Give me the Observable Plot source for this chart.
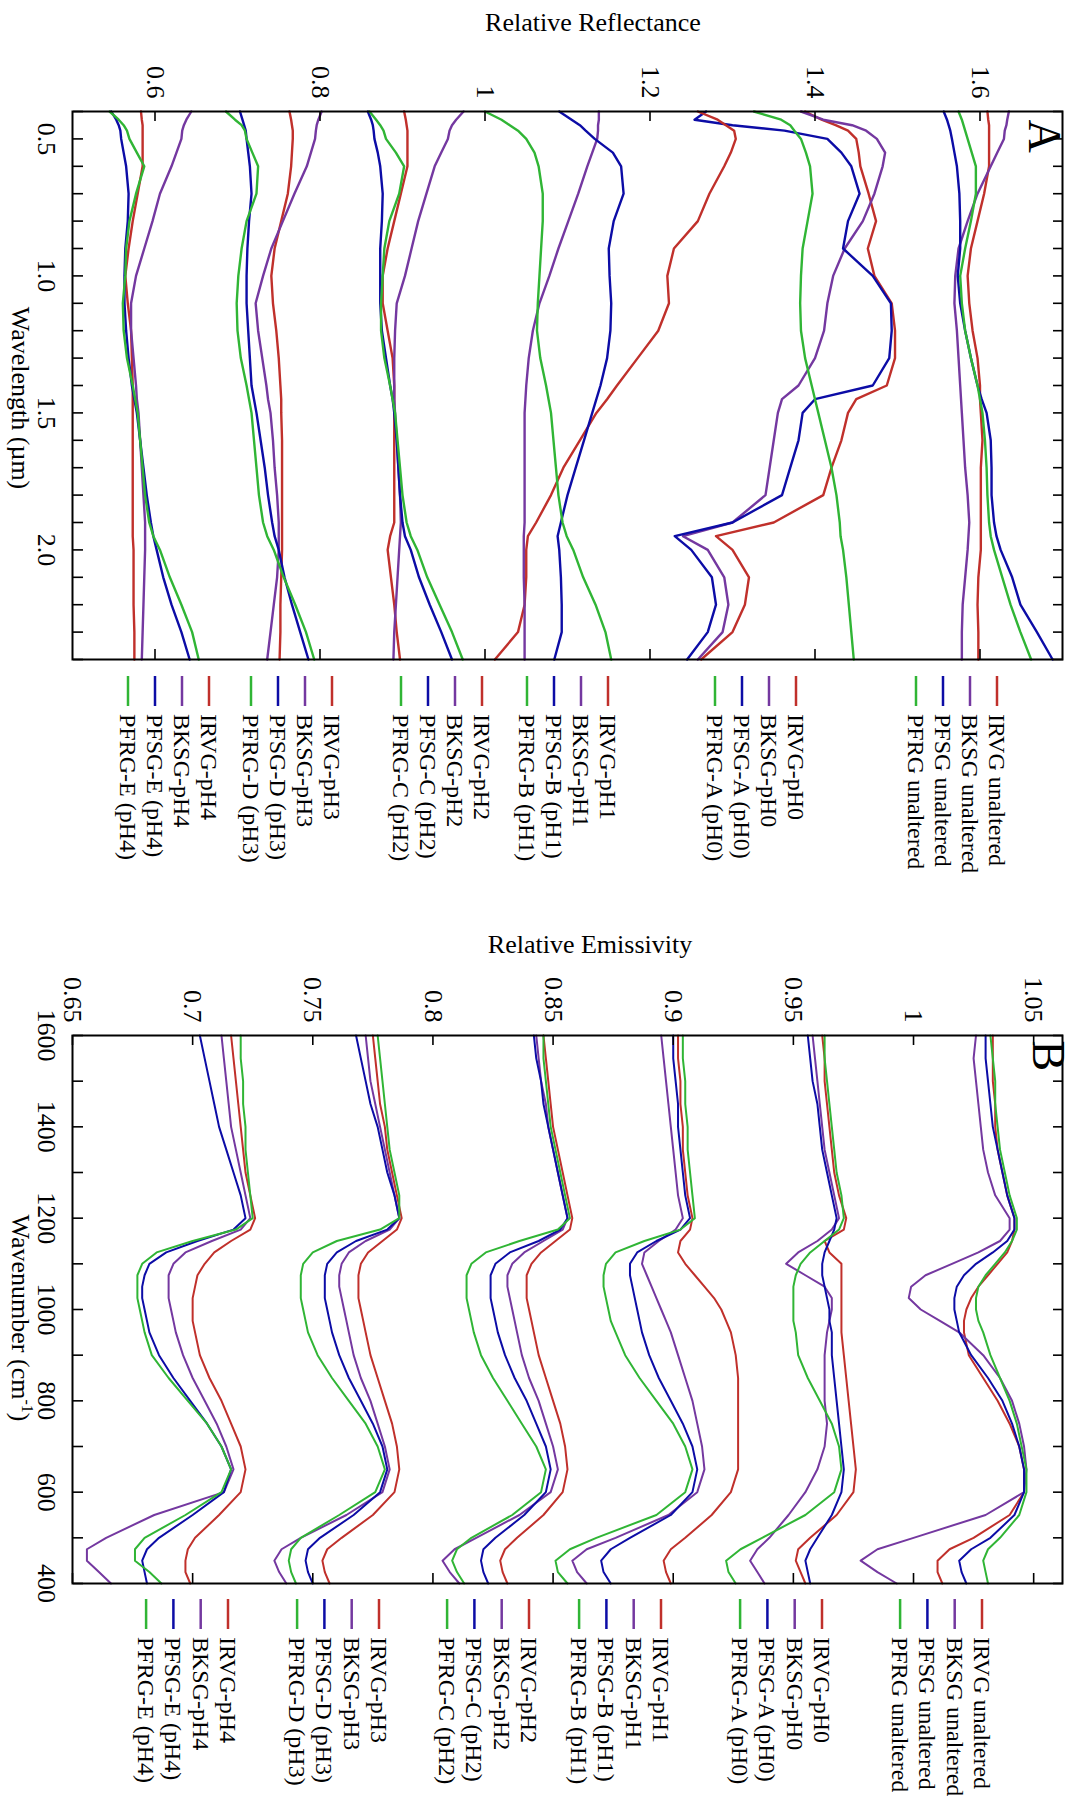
<!DOCTYPE html>
<html>
<head>
<meta charset="utf-8">
<script src="https://cdn.jsdelivr.net/npm/d3@7"></script>
<script src="https://cdn.jsdelivr.net/npm/@observablehq/plot@0.6"></script>
<style>
  html, body { margin: 0; padding: 0; background: #fff; }
  #page { position: relative; width: 1074px; height: 1796px; overflow: hidden; background: #fff; }
  /* the figure is laid out landscape and turned a quarter turn clockwise */
  #fig { position: absolute; left: 0; top: 0; width: 1796px; height: 1074px;
         transform-origin: 0 0; transform: translate(1074px, 0) rotate(90deg);
         font-family: "Liberation Serif", "Times New Roman", serif; }
  #fig > div, #fig > svg { position: absolute; top: 0; }
</style>
</head>
<body>
<div id="page"><div id="fig"></div></div>
<script>
// ---------- Panel A: VNIR reflectance (wavelength grid, µm) ----------
const wavelengthUm = [0.40, 0.43, 0.45, 0.47, 0.50, 0.55, 0.60, 0.70, 0.80, 0.90, 1.00, 1.10, 1.20, 1.30, 1.40, 1.45, 1.50, 1.60, 1.70, 1.80, 1.90, 1.95, 2.00, 2.10, 2.20, 2.30, 2.40];
const wavelengthTicks = [0.5, 1.0, 1.5, 2.0];
const wavelengthMinor = [0.4, 0.5, 0.6, 0.7, 0.8, 0.9, 1.0, 1.1, 1.2, 1.3, 1.4, 1.5, 1.6, 1.7, 1.8, 1.9, 2.0, 2.1, 2.2, 2.3, 2.4];
const reflTicks = [0.6, 0.8, 1, 1.2, 1.4, 1.6];

const reflIRVG_unaltered = [1.609, 1.610, 1.611, 1.611, 1.611, 1.611, 1.611, 1.605, 1.597, 1.589, 1.585, 1.587, 1.591, 1.597, 1.600, 1.600, 1.601, 1.603, 1.601, 1.601, 1.601, 1.601, 1.601, 1.598, 1.597, 1.598, 1.598];
const reflBKSG_unaltered = [1.635, 1.633, 1.632, 1.630, 1.629, 1.621, 1.613, 1.597, 1.585, 1.574, 1.570, 1.569, 1.572, 1.574, 1.576, 1.577, 1.578, 1.580, 1.582, 1.585, 1.587, 1.586, 1.585, 1.582, 1.579, 1.578, 1.578];
const reflPFSG_unaltered = [1.556, 1.560, 1.562, 1.564, 1.566, 1.569, 1.572, 1.575, 1.576, 1.576, 1.573, 1.576, 1.582, 1.589, 1.597, 1.602, 1.608, 1.613, 1.614, 1.614, 1.617, 1.620, 1.625, 1.639, 1.649, 1.669, 1.688];
const reflPFRG_unaltered = [1.574, 1.578, 1.580, 1.582, 1.585, 1.590, 1.595, 1.595, 1.589, 1.582, 1.576, 1.578, 1.582, 1.589, 1.597, 1.600, 1.603, 1.606, 1.608, 1.609, 1.611, 1.613, 1.617, 1.627, 1.637, 1.649, 1.662];

const reflIRVG_pH0 = [1.388, 1.408, 1.425, 1.440, 1.450, 1.453, 1.455, 1.465, 1.474, 1.464, 1.472, 1.493, 1.497, 1.497, 1.487, 1.450, 1.440, 1.432, 1.420, 1.410, 1.350, 1.280, 1.300, 1.320, 1.315, 1.300, 1.262];
const reflBKSG_pH0 = [1.383, 1.410, 1.445, 1.462, 1.475, 1.485, 1.482, 1.472, 1.458, 1.436, 1.422, 1.415, 1.411, 1.400, 1.380, 1.360, 1.355, 1.350, 1.345, 1.340, 1.300, 1.240, 1.270, 1.290, 1.295, 1.288, 1.258];
const reflPFSG_A = [1.268, 1.254, 1.300, 1.363, 1.415, 1.432, 1.444, 1.454, 1.440, 1.434, 1.470, 1.492, 1.493, 1.490, 1.470, 1.400, 1.385, 1.380, 1.370, 1.360, 1.300, 1.230, 1.250, 1.275, 1.280, 1.270, 1.245];
const reflPFRG_A = [1.326, 1.359, 1.370, 1.375, 1.383, 1.389, 1.394, 1.397, 1.391, 1.385, 1.383, 1.382, 1.383, 1.388, 1.396, 1.400, 1.404, 1.412, 1.420, 1.426, 1.430, 1.431, 1.434, 1.438, 1.441, 1.444, 1.447];

const reflIRVG_pH1 = [1.258, 1.282, 1.292, 1.302, 1.304, 1.298, 1.290, 1.272, 1.258, 1.229, 1.221, 1.223, 1.210, 1.185, 1.160, 1.148, 1.135, 1.115, 1.095, 1.080, 1.062, 1.052, 1.050, 1.050, 1.048, 1.040, 1.012];
const reflBKSG_pH1 = [1.138, 1.138, 1.137, 1.137, 1.136, 1.130, 1.124, 1.113, 1.101, 1.089, 1.078, 1.066, 1.058, 1.053, 1.050, 1.049, 1.048, 1.048, 1.048, 1.048, 1.048, 1.047, 1.047, 1.047, 1.048, 1.048, 1.048];
const reflPFSG_B = [1.090, 1.105, 1.115, 1.122, 1.133, 1.155, 1.165, 1.168, 1.156, 1.150, 1.151, 1.153, 1.152, 1.148, 1.140, 1.135, 1.130, 1.120, 1.110, 1.100, 1.092, 1.088, 1.090, 1.092, 1.093, 1.093, 1.084];
const reflPFRG_B = [1.000, 1.020, 1.030, 1.040, 1.050, 1.060, 1.065, 1.070, 1.070, 1.068, 1.066, 1.064, 1.063, 1.067, 1.074, 1.077, 1.080, 1.083, 1.086, 1.089, 1.094, 1.099, 1.107, 1.119, 1.134, 1.146, 1.153];

const reflIRVG_pH2 = [0.902, 0.904, 0.905, 0.906, 0.906, 0.906, 0.906, 0.898, 0.890, 0.882, 0.876, 0.876, 0.882, 0.888, 0.890, 0.890, 0.890, 0.890, 0.890, 0.890, 0.890, 0.885, 0.882, 0.886, 0.890, 0.893, 0.897];
const reflBKSG_pH2 = [0.974, 0.965, 0.960, 0.957, 0.955, 0.947, 0.939, 0.929, 0.919, 0.911, 0.903, 0.893, 0.891, 0.890, 0.890, 0.890, 0.891, 0.893, 0.895, 0.897, 0.898, 0.897, 0.896, 0.894, 0.892, 0.890, 0.889];
const reflPFSG_C = [0.858, 0.862, 0.864, 0.865, 0.866, 0.870, 0.873, 0.876, 0.875, 0.873, 0.873, 0.873, 0.875, 0.880, 0.885, 0.888, 0.890, 0.893, 0.895, 0.897, 0.900, 0.903, 0.910, 0.920, 0.933, 0.947, 0.960];
const reflPFRG_C = [0.860, 0.868, 0.873, 0.877, 0.880, 0.892, 0.902, 0.896, 0.884, 0.878, 0.876, 0.874, 0.874, 0.878, 0.885, 0.888, 0.891, 0.894, 0.897, 0.900, 0.905, 0.910, 0.918, 0.930, 0.945, 0.960, 0.973];

const reflIRVG_pH3 = [0.763, 0.765, 0.766, 0.767, 0.767, 0.766, 0.765, 0.761, 0.753, 0.745, 0.741, 0.743, 0.747, 0.750, 0.752, 0.753, 0.753, 0.754, 0.754, 0.754, 0.754, 0.754, 0.754, 0.753, 0.752, 0.752, 0.751];
const reflBKSG_pH3 = [0.802, 0.798, 0.796, 0.795, 0.794, 0.789, 0.784, 0.769, 0.755, 0.741, 0.731, 0.722, 0.725, 0.730, 0.735, 0.737, 0.740, 0.743, 0.745, 0.748, 0.750, 0.750, 0.750, 0.748, 0.744, 0.740, 0.736];
const reflPFSG_D = [0.703, 0.706, 0.708, 0.710, 0.711, 0.713, 0.715, 0.717, 0.714, 0.712, 0.711, 0.711, 0.713, 0.715, 0.717, 0.720, 0.723, 0.728, 0.733, 0.737, 0.742, 0.745, 0.750, 0.757, 0.766, 0.776, 0.786];
const reflPFRG_D = [0.686, 0.697, 0.705, 0.709, 0.711, 0.718, 0.725, 0.723, 0.711, 0.705, 0.701, 0.699, 0.700, 0.704, 0.711, 0.714, 0.717, 0.720, 0.723, 0.726, 0.731, 0.736, 0.744, 0.756, 0.770, 0.783, 0.793];

const reflIRVG_pH4 = [0.583, 0.584, 0.585, 0.585, 0.585, 0.585, 0.585, 0.579, 0.573, 0.568, 0.564, 0.567, 0.571, 0.572, 0.573, 0.573, 0.573, 0.573, 0.573, 0.573, 0.573, 0.573, 0.574, 0.574, 0.574, 0.575, 0.575];
const reflBKSG_pH4 = [0.644, 0.638, 0.635, 0.633, 0.632, 0.626, 0.620, 0.606, 0.597, 0.587, 0.577, 0.571, 0.571, 0.574, 0.577, 0.578, 0.580, 0.582, 0.584, 0.586, 0.588, 0.588, 0.588, 0.587, 0.586, 0.585, 0.584];
const reflPFSG_E = [0.547, 0.553, 0.556, 0.558, 0.559, 0.562, 0.565, 0.568, 0.567, 0.564, 0.563, 0.563, 0.565, 0.568, 0.572, 0.575, 0.578, 0.582, 0.586, 0.590, 0.595, 0.598, 0.602, 0.610, 0.620, 0.632, 0.642];
const reflPFRG_E = [0.545, 0.556, 0.562, 0.566, 0.569, 0.578, 0.587, 0.577, 0.569, 0.565, 0.564, 0.561, 0.562, 0.566, 0.573, 0.576, 0.579, 0.582, 0.585, 0.588, 0.593, 0.598, 0.606, 0.618, 0.632, 0.645, 0.653];

// ---------- Panel B: TIR emissivity (wavenumber grid, cm-1) ----------
const wavenumber = [1600, 1550, 1500, 1450, 1400, 1350, 1300, 1250, 1200, 1175, 1150, 1125, 1100, 1075, 1050, 1025, 1000, 975, 950, 900, 850, 800, 750, 700, 650, 600, 550, 500, 475, 450, 425, 400];
const wavenumberTicks = [1600, 1400, 1200, 1000, 800, 600, 400];
const wavenumberMinor = [1600, 1500, 1400, 1300, 1200, 1100, 1000, 900, 800, 700, 600, 500, 400];
const emisTicks = [0.65, 0.7, 0.75, 0.8, 0.85, 0.9, 0.95, 1, 1.05];

const emisIRVG_unaltered = [1.033, 1.033, 1.033, 1.034, 1.034, 1.035, 1.037, 1.039, 1.042, 1.042, 1.041, 1.039, 1.035, 1.031, 1.027, 1.024, 1.022, 1.021, 1.021, 1.023, 1.029, 1.035, 1.040, 1.044, 1.046, 1.046, 1.040, 1.025, 1.015, 1.010, 1.010, 1.012];
const emisBKSG_unaltered = [1.026, 1.025, 1.026, 1.027, 1.028, 1.029, 1.031, 1.034, 1.040, 1.040, 1.036, 1.027, 1.016, 1.005, 0.999, 0.998, 1.003, 1.011, 1.019, 1.029, 1.036, 1.041, 1.044, 1.046, 1.047, 1.046, 1.030, 1.000, 0.985, 0.978, 0.985, 0.993];
const emisPFSG_unaltered = [1.030, 1.030, 1.031, 1.032, 1.033, 1.035, 1.037, 1.039, 1.042, 1.042, 1.039, 1.033, 1.026, 1.021, 1.018, 1.017, 1.017, 1.018, 1.019, 1.024, 1.031, 1.037, 1.041, 1.044, 1.046, 1.046, 1.042, 1.032, 1.024, 1.019, 1.020, 1.022];
const emisPFRG_unaltered = [1.032, 1.033, 1.034, 1.034, 1.035, 1.036, 1.038, 1.040, 1.043, 1.043, 1.041, 1.038, 1.034, 1.030, 1.027, 1.026, 1.026, 1.027, 1.029, 1.032, 1.036, 1.040, 1.043, 1.045, 1.047, 1.047, 1.044, 1.036, 1.031, 1.029, 1.030, 1.031];

const emisIRVG_pH0 = [0.962, 0.963, 0.963, 0.964, 0.965, 0.966, 0.967, 0.969, 0.972, 0.971, 0.963, 0.965, 0.970, 0.970, 0.970, 0.970, 0.970, 0.970, 0.970, 0.971, 0.972, 0.973, 0.974, 0.975, 0.976, 0.975, 0.968, 0.957, 0.952, 0.951, 0.953, 0.955];
const emisBKSG_pH0 = [0.958, 0.959, 0.960, 0.961, 0.962, 0.963, 0.965, 0.967, 0.969, 0.966, 0.960, 0.952, 0.947, 0.955, 0.963, 0.966, 0.966, 0.965, 0.964, 0.963, 0.963, 0.963, 0.964, 0.963, 0.960, 0.955, 0.948, 0.940, 0.935, 0.932, 0.935, 0.938];
const emisPFSG_A = [0.956, 0.957, 0.958, 0.960, 0.961, 0.962, 0.964, 0.966, 0.968, 0.967, 0.965, 0.963, 0.962, 0.962, 0.963, 0.964, 0.965, 0.965, 0.966, 0.966, 0.967, 0.968, 0.969, 0.970, 0.971, 0.970, 0.966, 0.960, 0.957, 0.955, 0.956, 0.957];
const emisPFRG_A = [0.963, 0.963, 0.964, 0.965, 0.966, 0.967, 0.968, 0.970, 0.971, 0.969, 0.963, 0.957, 0.953, 0.951, 0.950, 0.950, 0.950, 0.950, 0.951, 0.952, 0.956, 0.961, 0.966, 0.969, 0.970, 0.967, 0.955, 0.937, 0.928, 0.922, 0.923, 0.926];

const emisIRVG_pH1 = [0.902, 0.902, 0.903, 0.903, 0.904, 0.904, 0.905, 0.906, 0.908, 0.907, 0.903, 0.902, 0.905, 0.909, 0.913, 0.917, 0.920, 0.922, 0.924, 0.926, 0.927, 0.927, 0.927, 0.927, 0.927, 0.924, 0.916, 0.905, 0.899, 0.896, 0.897, 0.899];
const emisBKSG_pH1 = [0.895, 0.896, 0.897, 0.898, 0.899, 0.900, 0.901, 0.902, 0.904, 0.901, 0.894, 0.888, 0.887, 0.889, 0.891, 0.893, 0.895, 0.897, 0.899, 0.902, 0.905, 0.908, 0.910, 0.912, 0.913, 0.910, 0.898, 0.876, 0.864, 0.858, 0.860, 0.864];
const emisPFSG_B = [0.900, 0.900, 0.901, 0.902, 0.902, 0.903, 0.904, 0.905, 0.907, 0.903, 0.893, 0.885, 0.882, 0.882, 0.883, 0.884, 0.885, 0.886, 0.887, 0.890, 0.894, 0.899, 0.904, 0.908, 0.910, 0.908, 0.899, 0.882, 0.874, 0.870, 0.871, 0.874];
const emisPFRG_B = [0.904, 0.904, 0.905, 0.905, 0.906, 0.906, 0.907, 0.908, 0.909, 0.903, 0.888, 0.876, 0.872, 0.871, 0.871, 0.872, 0.873, 0.874, 0.876, 0.880, 0.886, 0.893, 0.900, 0.905, 0.908, 0.905, 0.893, 0.868, 0.857, 0.851, 0.852, 0.856];

const emisIRVG_pH2 = [0.846, 0.847, 0.848, 0.849, 0.850, 0.852, 0.854, 0.856, 0.858, 0.857, 0.851, 0.845, 0.841, 0.839, 0.839, 0.839, 0.840, 0.841, 0.842, 0.844, 0.847, 0.850, 0.853, 0.855, 0.856, 0.854, 0.846, 0.835, 0.830, 0.828, 0.829, 0.831];
const emisBKSG_pH2 = [0.843, 0.844, 0.845, 0.847, 0.848, 0.850, 0.852, 0.854, 0.856, 0.854, 0.846, 0.838, 0.833, 0.831, 0.831, 0.832, 0.833, 0.834, 0.835, 0.837, 0.840, 0.844, 0.847, 0.850, 0.852, 0.849, 0.836, 0.818, 0.809, 0.804, 0.807, 0.811];
const emisPFSG_C = [0.842, 0.843, 0.845, 0.846, 0.848, 0.850, 0.852, 0.854, 0.856, 0.853, 0.844, 0.832, 0.826, 0.824, 0.824, 0.824, 0.825, 0.826, 0.827, 0.830, 0.834, 0.839, 0.843, 0.847, 0.849, 0.847, 0.838, 0.826, 0.821, 0.820, 0.821, 0.823];
const emisPFRG_C = [0.846, 0.846, 0.847, 0.848, 0.849, 0.851, 0.853, 0.855, 0.857, 0.852, 0.836, 0.822, 0.816, 0.814, 0.814, 0.814, 0.815, 0.816, 0.817, 0.820, 0.825, 0.831, 0.837, 0.843, 0.847, 0.845, 0.833, 0.816, 0.810, 0.808, 0.810, 0.813];

const emisIRVG_pH3 = [0.775, 0.776, 0.777, 0.778, 0.780, 0.781, 0.783, 0.785, 0.787, 0.785, 0.779, 0.773, 0.770, 0.769, 0.769, 0.769, 0.770, 0.771, 0.772, 0.774, 0.777, 0.780, 0.783, 0.785, 0.786, 0.784, 0.775, 0.762, 0.756, 0.754, 0.755, 0.757];
const emisBKSG_pH3 = [0.772, 0.773, 0.774, 0.776, 0.778, 0.780, 0.782, 0.784, 0.786, 0.782, 0.772, 0.765, 0.762, 0.761, 0.761, 0.762, 0.763, 0.764, 0.765, 0.767, 0.770, 0.774, 0.777, 0.780, 0.782, 0.779, 0.764, 0.745, 0.737, 0.734, 0.736, 0.739];
const emisPFSG_D = [0.768, 0.770, 0.772, 0.774, 0.777, 0.779, 0.781, 0.784, 0.786, 0.781, 0.768, 0.760, 0.756, 0.755, 0.755, 0.755, 0.756, 0.757, 0.758, 0.761, 0.765, 0.770, 0.775, 0.779, 0.781, 0.778, 0.767, 0.753, 0.748, 0.747, 0.748, 0.750];
const emisPFRG_D = [0.777, 0.778, 0.779, 0.780, 0.781, 0.782, 0.784, 0.786, 0.786, 0.778, 0.760, 0.750, 0.746, 0.745, 0.745, 0.745, 0.746, 0.747, 0.748, 0.752, 0.758, 0.765, 0.772, 0.777, 0.780, 0.776, 0.761, 0.745, 0.741, 0.740, 0.741, 0.743];

const emisIRVG_pH4 = [0.716, 0.717, 0.718, 0.719, 0.720, 0.721, 0.722, 0.724, 0.726, 0.724, 0.716, 0.709, 0.705, 0.702, 0.701, 0.700, 0.700, 0.700, 0.701, 0.703, 0.707, 0.712, 0.716, 0.720, 0.722, 0.720, 0.711, 0.701, 0.698, 0.697, 0.697, 0.699];
const emisBKSG_pH4 = [0.712, 0.713, 0.714, 0.715, 0.716, 0.718, 0.720, 0.722, 0.724, 0.720, 0.708, 0.697, 0.692, 0.690, 0.690, 0.690, 0.691, 0.692, 0.693, 0.696, 0.700, 0.705, 0.710, 0.714, 0.717, 0.713, 0.684, 0.664, 0.656, 0.656, 0.661, 0.666];
const emisPFSG_E = [0.703, 0.705, 0.707, 0.709, 0.711, 0.714, 0.717, 0.720, 0.722, 0.717, 0.702, 0.689, 0.682, 0.680, 0.679, 0.679, 0.680, 0.681, 0.682, 0.686, 0.692, 0.699, 0.706, 0.712, 0.716, 0.713, 0.700, 0.686, 0.681, 0.679, 0.680, 0.681];
const emisPFRG_E = [0.720, 0.720, 0.721, 0.721, 0.722, 0.722, 0.723, 0.724, 0.725, 0.718, 0.700, 0.685, 0.679, 0.677, 0.677, 0.677, 0.678, 0.679, 0.680, 0.683, 0.690, 0.698, 0.706, 0.712, 0.716, 0.712, 0.697, 0.680, 0.676, 0.676, 0.682, 0.687];

// ---------- series, legend labels, colours ----------
const materials = ["IRVG", "BKSG", "PFSG", "PFRG"];
const materialColors = ["#c0302b", "#7438a0", "#0c0ca6", "#30b535"];
const conditions = ["unaltered", "pH0", "pH1", "pH2", "pH3", "pH4"];
const legendLabels = [
  ["IRVG unaltered", "BKSG unaltered", "PFSG unaltered", "PFRG unaltered"],
  ["IRVG-pH0", "BKSG-pH0", "PFSG-A (pH0)", "PFRG-A (pH0)"],
  ["IRVG-pH1", "BKSG-pH1", "PFSG-B (pH1)", "PFRG-B (pH1)"],
  ["IRVG-pH2", "BKSG-pH2", "PFSG-C (pH2)", "PFRG-C (pH2)"],
  ["IRVG-pH3", "BKSG-pH3", "PFSG-D (pH3)", "PFRG-D (pH3)"],
  ["IRVG-pH4", "BKSG-pH4", "PFSG-E (pH4)", "PFRG-E (pH4)"]
];
const reflByCondition = [
  [reflIRVG_unaltered, reflBKSG_unaltered, reflPFSG_unaltered, reflPFRG_unaltered],
  [reflIRVG_pH0, reflBKSG_pH0, reflPFSG_A, reflPFRG_A],
  [reflIRVG_pH1, reflBKSG_pH1, reflPFSG_B, reflPFRG_B],
  [reflIRVG_pH2, reflBKSG_pH2, reflPFSG_C, reflPFRG_C],
  [reflIRVG_pH3, reflBKSG_pH3, reflPFSG_D, reflPFRG_D],
  [reflIRVG_pH4, reflBKSG_pH4, reflPFSG_E, reflPFRG_E]
];
const emisByCondition = [
  [emisIRVG_unaltered, emisBKSG_unaltered, emisPFSG_unaltered, emisPFRG_unaltered],
  [emisIRVG_pH0, emisBKSG_pH0, emisPFSG_A, emisPFRG_A],
  [emisIRVG_pH1, emisBKSG_pH1, emisPFSG_B, emisPFRG_B],
  [emisIRVG_pH2, emisBKSG_pH2, emisPFSG_C, emisPFRG_C],
  [emisIRVG_pH3, emisBKSG_pH3, emisPFSG_D, emisPFRG_D],
  [emisIRVG_pH4, emisBKSG_pH4, emisPFSG_E, emisPFRG_E]
];

function toRows(grid, byCondition) {
  const rows = [];
  byCondition.forEach((group, ci) => group.forEach((values, mi) => {
    values.forEach((v, i) => rows.push({x: grid[i], y: v, mat: materials[mi], key: conditions[ci] + "-" + materials[mi]}));
  }));
  return rows;
}

// ---------- layout (landscape coordinates before the quarter turn) ----------
const FIG_W = 1796, FIG_H = 1074;
const PANEL_W = 662, M_LEFT = 111, M_RIGHT = 3, M_TOP = 11, M_BOTTOM = 73;
const INNER_W = PANEL_W - M_LEFT - M_RIGHT, INNER_H = FIG_H - M_TOP - M_BOTTOM;
const FONT = "'Liberation Serif', 'Times New Roman', serif";

function panel({rows, xDomain, yDomain, xTicks, xMinor, yTicks, xFormat, letter, letterDx, letterDy, lineWidth}) {
  return Plot.plot({
    width: PANEL_W, height: FIG_H,
    marginLeft: M_LEFT, marginRight: M_RIGHT, marginTop: M_TOP, marginBottom: M_BOTTOM,
    style: {fontFamily: FONT, fontSize: "26px", background: "transparent", color: "#000", maxWidth: "none", overflow: "visible"},
    x: {domain: xDomain},
    y: {domain: yDomain},
    color: {domain: materials, range: materialColors},
    marks: [
      Plot.line(rows, {x: "x", y: "y", z: "key", stroke: "mat", strokeWidth: lineWidth, curve: "linear"}),
      Plot.tickX(xMinor, {x: d => d, insetTop: INNER_H - 10, stroke: "#000", strokeWidth: 1.6}),
      Plot.tickX(xMinor, {x: d => d, insetBottom: INNER_H - 10, stroke: "#000", strokeWidth: 1.6}),
      Plot.tickY(yTicks, {y: d => d, insetRight: INNER_W - 10, stroke: "#000", strokeWidth: 1.6}),
      Plot.tickY(yTicks, {y: d => d, insetLeft: INNER_W - 10, stroke: "#000", strokeWidth: 1.6}),
      Plot.axisX(xTicks, {tickSize: 0, tickPadding: 16, tickFormat: xFormat, label: null, fontSize: 26}),
      Plot.axisY(yTicks, {tickSize: 0, tickPadding: 13, tickFormat: d => String(+d.toFixed(2)), label: null, fontSize: 26}),
      Plot.frame({stroke: "#000", strokeWidth: 2}),
      Plot.text([letter], {frameAnchor: "top-left", text: d => d, dx: letterDx, dy: letterDy, fontSize: 46, textAnchor: "start", lineAnchor: "top", fill: "#000"})
    ]
  });
}

const fig = document.getElementById("fig");

const chartA = panel({
  rows: toRows(wavelengthUm, reflByCondition),
  xDomain: [0.4, 2.4], yDomain: [0.5, 1.7],
  xTicks: wavelengthTicks, xMinor: wavelengthMinor, yTicks: reflTicks,
  xFormat: d3.format(".1f"), letter: "A", letterDx: 8, letterDy: 1, lineWidth: 2.4
});
const wrapA = document.createElement("div");
wrapA.style.left = "0px";
wrapA.appendChild(chartA);
fig.appendChild(wrapA);

const PANEL_B_LEFT = 924;
const chartB = panel({
  rows: toRows(wavenumber, emisByCondition),
  xDomain: [1600, 400], yDomain: [0.65, 1.062],
  xTicks: wavenumberTicks, xMinor: wavenumberMinor, yTicks: emisTicks,
  xFormat: d3.format("d"), letter: "B", letterDx: 5, letterDy: -3, lineWidth: 2
});
const wrapB = document.createElement("div");
wrapB.style.left = PANEL_B_LEFT + "px";
wrapB.appendChild(chartB);
fig.appendChild(wrapB);

// ---------- axis titles and legends ----------
const svg = d3.select(fig).append("svg")
  .attr("width", FIG_W).attr("height", FIG_H)
  .style("left", "0px").style("pointer-events", "none")
  .style("font-family", FONT);

svg.append("text").attr("transform", "translate(31,481) rotate(-90)")
  .attr("text-anchor", "middle").attr("font-size", 26).text("Relative Reflectance");
svg.append("text").attr("transform", "translate(953,484) rotate(-90)")
  .attr("text-anchor", "middle").attr("font-size", 26).text("Relative Emissivity");
svg.append("text").attr("x", 398).attr("y", 1062)
  .attr("text-anchor", "middle").attr("font-size", 26).text("Wavelength (\u00b5m)");
const wn = svg.append("text").attr("x", 1318).attr("y", 1062)
  .attr("text-anchor", "middle").attr("font-size", 26);
wn.append("tspan").text("Wavenumber (cm");
wn.append("tspan").attr("font-size", 16).attr("dy", -10).text("-1");
wn.append("tspan").attr("dy", 10).text(")");

// legend group row positions (first row of each group) and row step
const legendA = {x: 676, rows: [77, 278, 466, 592, 742, 865], step: 27};
const legendB = {x: 1599, rows: [92, 252, 413, 545, 695, 846], step: 27.3};

function drawLegend(spec) {
  const g = svg.append("g");
  legendLabels.forEach((labels, gi) => labels.forEach((label, mi) => {
    const y = spec.rows[gi] + mi * spec.step;
    g.append("line").attr("x1", spec.x).attr("x2", spec.x + 30).attr("y1", y).attr("y2", y)
      .attr("stroke", materialColors[mi]).attr("stroke-width", 2.5);
    g.append("text").attr("x", spec.x + 38).attr("y", y).attr("dy", "0.34em")
      .attr("font-size", 24).text(label);
  }));
}
drawLegend(legendA);
drawLegend(legendB);
</script>
</body>
</html>
